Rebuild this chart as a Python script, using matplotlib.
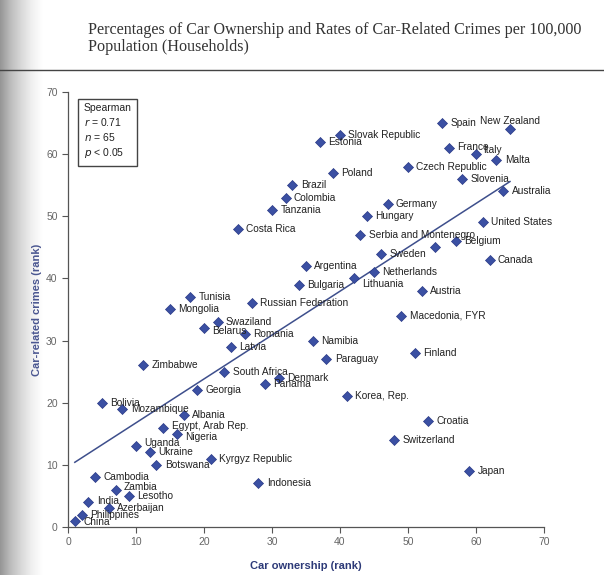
import numpy as np
import matplotlib
matplotlib.use("Agg")
import matplotlib.pyplot as plt

# Spearman ranks: (country, car ownership rank, car crime rank)
countries = [
    "China", "Philippines", "India", "Cambodia", "Bolivia", "Azerbaijan", "Zambia",
    "Mozambique", "Lesotho", "Uganda", "Zimbabwe", "Ukraine", "Botswana",
    "Egypt, Arab Rep.", "Mongolia", "Nigeria", "Albania", "Tunisia", "Georgia",
    "Belarus", "Kyrgyz Republic", "Swaziland", "South Africa", "Latvia", "Costa Rica",
    "Romania", "Russian Federation", "Indonesia", "Panama", "Tanzania", "Denmark",
    "Colombia", "Brazil", "Bulgaria", "Argentina", "Namibia", "Estonia", "Paraguay",
    "Poland", "Slovak Republic", "Korea, Rep.", "Lithuania", "Serbia and Montenegro",
    "Hungary", "Netherlands", "Sweden", "Germany", "Switzerland", "Macedonia, FYR",
    "Czech Republic", "Finland", "Austria", "Croatia", "United Kingdom", "Spain",
    "France", "Belgium", "Slovenia", "Japan", "Italy", "United States", "Canada",
    "Malta", "Australia", "New Zealand",
]
ownership = [
    1, 2, 3, 4, 5, 6, 7, 8, 9, 10, 11, 12, 13, 14, 15, 16, 17, 18, 19, 20,
    21, 22, 23, 24, 25, 26, 27, 28, 29, 30, 31, 32, 33, 34, 35, 36, 37, 38, 39, 40,
    41, 42, 43, 44, 45, 46, 47, 48, 49, 50, 51, 52, 53, 54, 55, 56, 57, 58, 59, 60,
    61, 62, 63, 64, 65,
]
crimes = [
    1, 2, 4, 8, 20, 3, 6, 19, 5, 13, 26, 12, 10, 16, 35, 15, 18, 37, 22, 32,
    11, 33, 25, 29, 48, 31, 36, 7, 23, 51, 24, 53, 55, 39, 42, 30, 62, 27, 57, 63,
    21, 40, 47, 50, 41, 44, 52, 14, 34, 58, 28, 38, 17, 45, 65, 61, 46, 56, 9, 60,
    49, 43, 59, 54, 64,
]

# label offsets in points where the label is not simply to the right
offsets = {
    "New Zealand": (0, 6), "Italy": (5, 3), "France": (6, 1), "Lithuania": (6, -4),
    "Belarus": (6, -2), "Egypt, Arab Rep.": (6, 1), "Nigeria": (6, -2),
    "Uganda": (6, 2), "Zambia": (6, 2), "India": (6, 1), "China": (6, -1),
}

title = ("Percentages of Car Ownership and Rates of Car-Related Crimes per 100,000\n"
         "Population (Households)")

navy = "#2d3a78"
marker_col = "#3b50a3"


def main():
    plt.rcParams["font.family"] = ["Liberation Sans", "DejaVu Sans"]
    fig = plt.figure(figsize=(6.04, 5.75), dpi=100)
    fig.patch.set_facecolor("white")

    # page shadow along the left edge of the scan
    shade = fig.add_axes([0, 0, 0.07, 1], zorder=-5)
    grad = np.linspace(0.5, 0.0, 60)[None, :]
    shade.imshow(np.repeat(grad, 10, axis=0), cmap="Greys", vmin=0, vmax=1,
                 aspect="auto", extent=[0, 1, 0, 1])
    shade.axis("off")

    fig.text(0.146, 0.962, title, family=["Liberation Serif", "DejaVu Serif"],
             fontsize=11.6, color="#333333", va="top", ha="left", linespacing=1.1)
    fig.add_artist(plt.Line2D([0.0, 1.0], [0.878, 0.878], color="#444444", lw=1.0))

    ax = fig.add_axes([0.1126, 0.0835, 0.788, 0.7565])
    ax.set_xlim(0, 70)
    ax.set_ylim(0, 70)

    x = np.array(ownership)
    y = np.array(crimes)
    ax.scatter(x, y, marker="D", s=26, color=marker_col, edgecolors="#2a3a86",
               linewidths=0.5, zorder=3)

    # least-squares line through the ranks
    slope, intercept = np.polyfit(x, y, 1)
    xs = np.array([x.min(), x.max()])
    ax.plot(xs, slope * xs + intercept, color="#3e4f8c", lw=1.1, zorder=2)

    for name, xi, yi in zip(countries, ownership, crimes):
        if name == "United Kingdom":
            continue
        dx, dy = offsets.get(name, (6, 0))
        ha = "center" if name == "New Zealand" else "left"
        ax.annotate(name, (xi, yi), xytext=(dx, dy), textcoords="offset points",
                    ha=ha, va="center", fontsize=7.3, color="#222222", zorder=4)

    ax.text(0.033, 0.975, "Spearman\n$r$ = 0.71\n$n$ = 65\n$p$ < 0.05",
            transform=ax.transAxes, ha="left", va="top", fontsize=7.5,
            color="#222222", linespacing=1.3,
            bbox=dict(boxstyle="square,pad=0.55", fc="white", ec="#444444", lw=1.0))

    for side in ["top", "right"]:
        ax.spines[side].set_visible(False)
    for side in ["left", "bottom"]:
        ax.spines[side].set_color("#555555")
        ax.spines[side].set_linewidth(0.9)
    ax.set_xticks(range(0, 71, 10))
    ax.set_yticks(range(0, 71, 10))
    ax.tick_params(direction="out", length=4, width=0.8, colors="#555555",
                   labelsize=7.5, labelcolor="#666666")

    ax.set_xlabel("Car ownership (rank)", fontsize=8, fontweight="bold",
                  color=navy, labelpad=10)
    ax.set_ylabel("Car-related crimes (rank)", fontsize=8, fontweight="bold",
                  color="#4a5690", labelpad=3)

    fig.savefig("out.png", dpi=100)
    plt.close(fig)


if __name__ == "__main__":
    main()
